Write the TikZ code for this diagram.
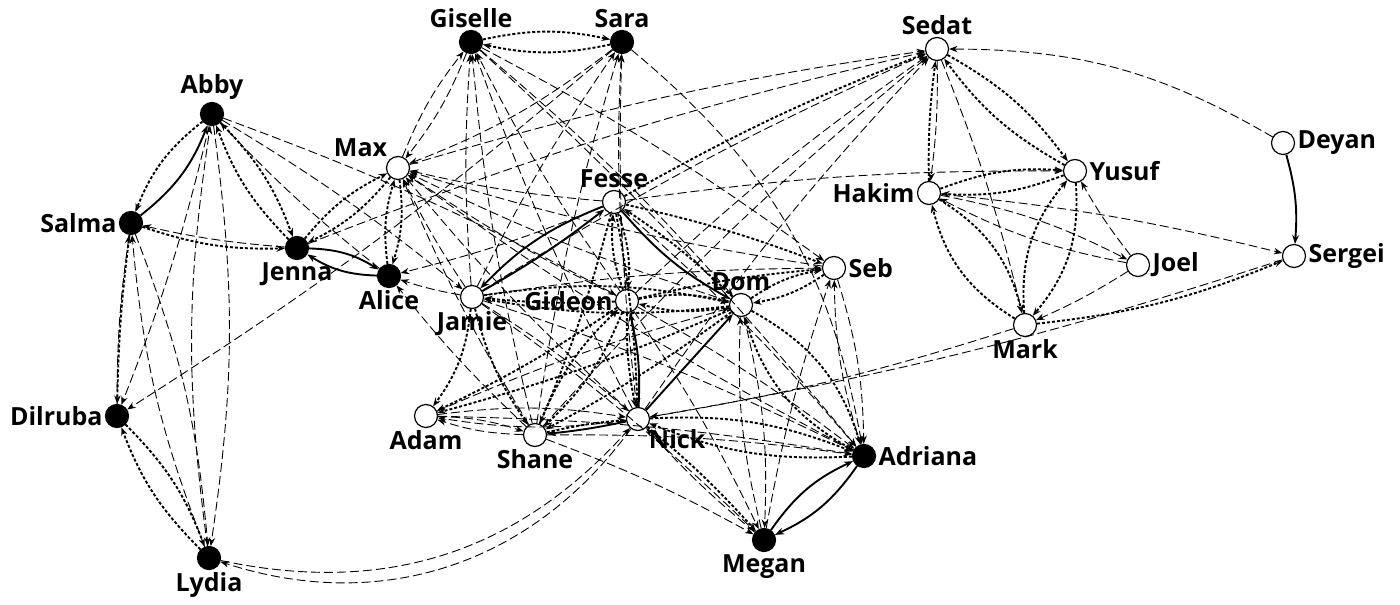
\documentclass[tikz,border=0pt]{standalone}
\usepackage{fontspec}
\setmainfont{Open Sans}
\usepackage{tikz}
\usetikzlibrary{arrows.meta}

\begin{document}
    \begin{tikzpicture}[x = 0.5pt, y = -0.5pt,
        person/.style = {circle, draw, line width = 0.6pt, minimum size = 11.5pt, inner sep = 0pt, label distance = 0.5pt},
        female/.style = {person, fill = black},
        male/.style = {person, fill = white},
        every label/.style = {font = \fontsize{12.5}{14}\selectfont\bfseries, inner sep = 1pt},
        strong/.style = {-{Stealth[length = 4.5pt, width = 3.4pt]}, line width = 0.95pt},
        medium/.style = {-{Stealth[length = 4.2pt, width = 3.2pt]}, line width = 0.95pt, dash pattern = on 1.5pt off 1pt},
        weak/.style = {-{Stealth[length = 4.2pt, width = 3.2pt]}, line width = 0.45pt, dash pattern = on 4.5pt off 2pt}]
        \useasboundingbox (0, 0) rectangle (1400, 604);
        % people
        \node[female, label = above:{Giselle}] (giselle) at (471, 42) {};
        \node[female, label = above:{Sara}] (sara) at (622, 42) {};
        \node[male, label = above:{Sedat}] (sedat) at (937, 49) {};
        \node[female, label = above:{Abby}] (abby) at (212, 114) {};
        \node[male, label = above left:{Max}] (max) at (398, 168) {};
        \node[male, label = right:{Deyan}] (deyan) at (1283, 143) {};
        \node[male, label = right:{Yusuf}] (yusuf) at (1075, 171) {};
        \node[male, label = left:{Hakim}] (hakim) at (929, 193) {};
        \node[male, label = above:{Fesse}] (fesse) at (614, 202) {};
        \node[female, label = left:{Salma}] (salma) at (131, 223) {};
        \node[female, label = below:{Jenna}] (jenna) at (297, 248) {};
        \node[female, label = below:{Alice}] (alice) at (389, 276) {};
        \node[male, label = right:{Seb}] (seb) at (834, 268) {};
        \node[male, label = right:{Joel}] (joel) at (1138, 265) {};
        \node[male, label = right:{Sergei}] (sergei) at (1294, 256) {};
        \node[male, label = below:{Jamie}] (jamie) at (472, 297) {};
        \node[male, label = left:{Gideon}] (gideon) at (627, 301) {};
        \node[male, label = above:{Dom}] (dom) at (741, 305) {};
        \node[male, label = below:{Mark}] (mark) at (1025, 325) {};
        \node[female, label = left:{Dilruba}] (dilruba) at (117, 416) {};
        \node[male, label = below:{Adam}] (adam) at (426, 416) {};
        \node[male, label = below:{Shane}] (shane) at (535, 435) {};
        \node[male, label = below right:{Nick}] (nick) at (638, 419) {};
        \node[female, label = right:{Adriana}] (adriana) at (864, 456) {};
        \node[female, label = below:{Megan}] (megan) at (764, 540) {};
        \node[female, label = below:{Lydia}] (lydia) at (209, 558) {};
        % weak ties
        \foreach \a/\b in {abby/lydia, lydia/abby, hakim/joel, joel/hakim, seb/adriana, adriana/seb,
            dom/megan, megan/dom, nick/adam, adam/nick, adam/shane, shane/adam, giselle/max, max/giselle,
            salma/lydia, lydia/salma}
            {
                \draw[weak] (\a) to[bend left = 8] (\b);
            }
        \foreach \a/\b in {dilruba/salma, abby/dilruba, jenna/salma, alice/abby, abby/jamie, abby/gideon,
            sara/dilruba, jamie/alice, shane/alice, jamie/max, gideon/max, nick/max, dom/max, adriana/max,
            shane/max, seb/max, max/sedat, jenna/sedat, jamie/sedat, gideon/sedat, shane/sedat, nick/sedat,
            jamie/giselle, shane/giselle, gideon/giselle, nick/giselle, giselle/seb, giselle/dom, giselle/adriana,
            jamie/sara, shane/sara, gideon/sara, nick/sara, fesse/yusuf, sedat/hakim, sedat/mark, joel/yusuf,
            joel/mark, hakim/sergei, mark/nick, sergei/nick, megan/seb, jamie/nick, jamie/adriana, jamie/megan,
            gideon/megan, gideon/adriana, fesse/adriana, shane/adriana, adam/dom, adam/adriana, megan/nick,
            fesse/alice, jamie/seb, shane/megan, fesse/max}
            {
                \draw[weak] (\a) to[bend left = 4] (\b);
            }
        \draw[weak] (sara) to[bend left = 8] (max);
        \draw[weak] (sara) to[bend left = 20] (adriana);
        \draw[weak] (deyan) to[bend right = 15] (sedat);
        \draw[weak] (lydia) to[bend right = 30] (nick);
        \draw[weak] (nick) to[bend left = 36] (lydia);
        % medium ties
        \foreach \a/\b in {abby/jenna, jenna/abby, dilruba/lydia, lydia/dilruba, jenna/max, max/jenna,
            alice/max, max/alice, giselle/sara, sara/giselle, sedat/yusuf, yusuf/sedat, yusuf/hakim, hakim/yusuf,
            dom/seb, seb/dom, gideon/fesse, fesse/gideon, gideon/dom, dom/gideon, gideon/shane, shane/gideon,
            nick/adriana, adriana/nick}
            {
                \draw[medium] (\a) to[bend left = 12] (\b);
            }
        \foreach \a/\b in {yusuf/mark, mark/yusuf, hakim/mark, mark/hakim, dom/adriana, adriana/dom}
            {
                \draw[medium] (\a) to[bend left = 22] (\b);
            }
        \foreach \a/\b in {hakim/sedat, fesse/sedat, fesse/seb, gideon/seb, gideon/jamie, gideon/adam,
            fesse/shane, fesse/nick, shane/nick, nick/megan, dom/shane, dom/adam}
            {
                \draw[medium] (\a) to[bend left = 4] (\b);
            }
        \draw[medium] (abby) to[bend right = 15] (salma);
        \draw[medium] (salma) to[bend right = 10] (jenna);
        \draw[medium] (salma) to[bend right = 3] (dilruba);
        \draw[medium] (mark) to[bend right = 8] (sergei);
        \draw[medium] (dom) to[bend right = 5] (fesse);
        \draw[medium] (jamie) to[bend left = 10] (dom);
        \draw[medium] (dom) to[bend left = 8] (jamie);
        \draw[medium] (jamie) to[bend left = 15] (adam);
        \draw[medium] (jamie) to[bend right = 10] (shane);
        \draw[medium] (gideon) to[bend right = 6] (nick);
        % strong ties
        \foreach \a/\b in {jenna/alice, alice/jenna, megan/adriana, adriana/megan}
            {
                \draw[strong] (\a) to[bend left = 15] (\b);
            }
        \draw[strong] (salma) to[bend right = 15] (abby);
        \draw[strong] (fesse) to[bend right = 12] (jamie);
        \draw[strong] (jamie) to[bend right = 4] (fesse);
        \draw[strong] (fesse) to[bend right = 10] (dom);
        \draw[strong] (nick) -- (dom);
        \draw[strong] (nick) to[bend right = 8] (gideon);
        \draw[strong] (nick) to[bend left = 3] (shane);
        \draw[strong] (deyan) to[bend left = 10] (sergei);
    \end{tikzpicture}
\end{document}
